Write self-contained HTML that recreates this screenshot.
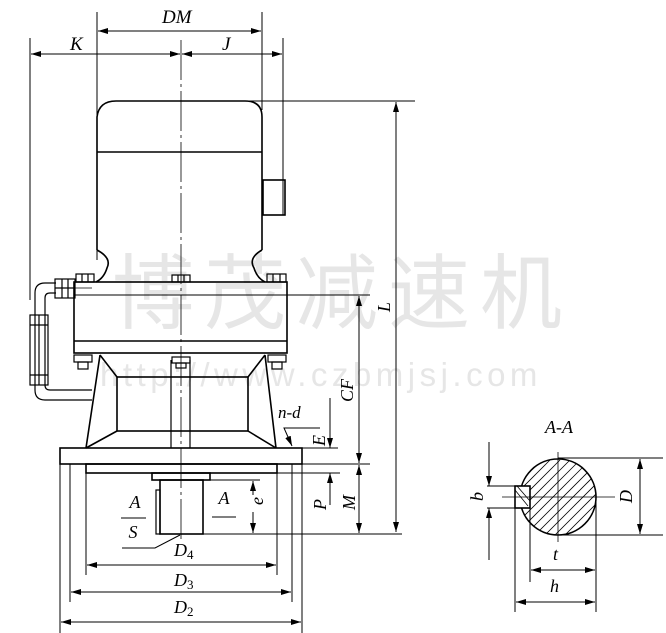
<!DOCTYPE html>
<html><head><meta charset="utf-8"><style>html,body{margin:0;padding:0;background:#fff}svg{display:block}</style></head><body>
<svg width="666" height="633" viewBox="0 0 666 633" xmlns="http://www.w3.org/2000/svg">
<defs>
<marker id="a" viewBox="0 0 10 6" refX="10" refY="3" markerWidth="10" markerHeight="6" orient="auto-start-reverse" markerUnits="userSpaceOnUse"><path d="M0,0L10,3L0,6z" fill="#000"/></marker>
<clipPath id="c"><circle cx="558" cy="497" r="38"/></clipPath>
</defs>
<!-- watermark -->
<g fill="#e6e6e6" font-family="'Noto Sans CJK SC',sans-serif">
<text x="112" y="322" font-size="82" letter-spacing="10">博茂减速机</text>
<text x="100" y="386" font-size="33" font-family="'Liberation Sans',sans-serif" letter-spacing="4.5">http://www.czbmjsj.com</text>
</g>
<g stroke="#000" fill="none" stroke-width="1">
<line x1="97" y1="12" x2="97" y2="260"/>
<line x1="262" y1="12" x2="262" y2="110"/>
<line x1="30" y1="38" x2="30" y2="300"/>
<line x1="283" y1="38" x2="283" y2="215"/>
<line x1="98" y1="31" x2="261" y2="31" marker-start="url(#a)" marker-end="url(#a)"/>
<line x1="31" y1="54" x2="180" y2="54" marker-start="url(#a)" marker-end="url(#a)"/>
<line x1="182" y1="54" x2="282" y2="54" marker-start="url(#a)" marker-end="url(#a)"/>
<line x1="181" y1="40" x2="181" y2="540" stroke-dasharray="40,4,3,4" stroke-width="0.8"/>
<line x1="230" y1="101" x2="415" y2="101"/>
<line x1="396" y1="102" x2="396" y2="532" marker-start="url(#a)" marker-end="url(#a)"/>
</g>
<g stroke="#000" fill="none" stroke-width="1.6">
<path d="M97,250 L97,117 Q99,101 116,101 L245,101 Q262,101 262,117 L262,250"/>
<line x1="97" y1="152" x2="262" y2="152"/>
<rect x="263" y="180" width="22" height="35"/>
<path d="M97,250 Q112,258 107,268 Q104,278 96,282"/>
<path d="M262,250 Q248,258 254,268 Q257,278 265,282"/>
<rect x="74" y="282" width="213" height="71"/>
<line x1="74" y1="295" x2="287" y2="295" stroke-width="1"/>
<line x1="74" y1="341" x2="287" y2="341"/>
<path d="M100,355 L86,448 M265,355 L276,448"/>
<rect x="117" y="377" width="131" height="54"/>
<path d="M100,355 L117,377 M265,355 L248,377 M86,448 L117,431 M276,448 L248,431"/>
<path d="M171,360 L171,448 M190,360 L190,448" stroke-width="1.2"/>
<rect x="60" y="448" width="242" height="16"/>
<rect x="86" y="464" width="191" height="9"/>
<rect x="152" y="473" width="58" height="7"/>
<rect x="160" y="480" width="43" height="54"/>
<rect x="156" y="490" width="4" height="44" stroke-width="1.2"/>
</g>
<g stroke="#000" fill="none" stroke-width="1.2">
<rect x="76" y="274" width="18" height="8"/><line x1="82" y1="274" x2="82" y2="282"/><line x1="88" y1="274" x2="88" y2="282"/>
<rect x="172" y="275" width="18" height="7"/><line x1="178" y1="275" x2="178" y2="282"/><line x1="184" y1="275" x2="184" y2="282"/>
<rect x="267" y="274" width="19" height="8"/><line x1="273" y1="274" x2="273" y2="282"/><line x1="280" y1="274" x2="280" y2="282"/>
<rect x="74" y="355" width="18" height="7"/><rect x="78" y="362" width="10" height="7"/>
<rect x="172" y="357" width="18" height="6"/><rect x="176" y="363" width="10" height="5"/>
<rect x="268" y="355" width="18" height="7"/><rect x="272" y="362" width="10" height="7"/>
<path d="M56,283 L45,283 Q35,283 35,293 L35,390 Q35,400 45,400 L92,400"/>
<path d="M56,293 L50,293 Q45,293 45,298 L45,385 Q45,390 50,390 L92,390"/>
<rect x="55" y="279" width="20" height="19"/><line x1="62" y1="279" x2="62" y2="298"/><line x1="68" y1="279" x2="68" y2="298"/><line x1="55" y1="288" x2="75" y2="288"/>
<rect x="30" y="315" width="18" height="70"/><line x1="39" y1="315" x2="39" y2="385"/><line x1="30" y1="325" x2="48" y2="325"/><line x1="30" y1="375" x2="48" y2="375"/>
<line x1="75" y1="288" x2="92" y2="288" stroke-width="0.8"/>
</g>
<g stroke="#000" fill="none" stroke-width="1">
<line x1="287" y1="295" x2="370" y2="295"/>
<line x1="302" y1="448" x2="338" y2="448"/>
<line x1="277" y1="464" x2="370" y2="464"/>
<line x1="277" y1="473" x2="340" y2="473"/>
<line x1="203" y1="480" x2="260" y2="480"/>
<line x1="203" y1="534" x2="402" y2="534"/>
<line x1="359" y1="296" x2="359" y2="463" marker-start="url(#a)" marker-end="url(#a)"/>
<line x1="359" y1="465" x2="359" y2="533" marker-start="url(#a)" marker-end="url(#a)"/>
<line x1="330" y1="398" x2="330" y2="448" marker-end="url(#a)"/>
<line x1="330" y1="505" x2="330" y2="473" marker-end="url(#a)"/>
<line x1="253" y1="481" x2="253" y2="495" marker-start="url(#a)"/>
<line x1="253" y1="512" x2="253" y2="533" marker-end="url(#a)"/>
<path d="M320,428 L284,428 L292,446" marker-end="url(#a)"/>
<line x1="212" y1="517" x2="236" y2="517"/>
<line x1="121" y1="518" x2="146" y2="518"/>
<path d="M180,535 L155,548 L122,548"/>
<line x1="86" y1="473" x2="86" y2="575"/><line x1="277" y1="473" x2="277" y2="575"/>
<line x1="70" y1="464" x2="70" y2="602"/><line x1="292" y1="464" x2="292" y2="602"/>
<line x1="60" y1="464" x2="60" y2="633"/><line x1="302" y1="464" x2="302" y2="633"/>
<line x1="87" y1="565" x2="276" y2="565" marker-start="url(#a)" marker-end="url(#a)"/>
<line x1="71" y1="592" x2="291" y2="592" marker-start="url(#a)" marker-end="url(#a)"/>
<line x1="61" y1="622" x2="301" y2="622" marker-start="url(#a)" marker-end="url(#a)"/>
</g>
<g stroke="#000" fill="none" stroke-width="1">
<g clip-path="url(#c)" stroke-width="0.8">
<line x1="500" y1="560" x2="600" y2="460"/><line x1="510" y1="560" x2="610" y2="460"/><line x1="520" y1="560" x2="620" y2="460"/><line x1="530" y1="560" x2="630" y2="460"/><line x1="540" y1="560" x2="640" y2="460"/><line x1="490" y1="560" x2="590" y2="460"/><line x1="480" y1="560" x2="580" y2="460"/><line x1="470" y1="560" x2="570" y2="460"/><line x1="460" y1="560" x2="560" y2="460"/><line x1="450" y1="560" x2="550" y2="460"/><line x1="440" y1="560" x2="540" y2="460"/><line x1="550" y1="560" x2="650" y2="460"/>
</g>
<rect x="515" y="486" width="15" height="22" fill="#fff" stroke="none"/>
<circle cx="558" cy="497" r="38" stroke-width="1.6"/>
<rect x="515" y="486" width="15" height="22" fill="#fff" stroke-width="1.6"/>
<line x1="515" y1="490" x2="528" y2="506" stroke-width="0.8"/><line x1="517" y1="486" x2="530" y2="501" stroke-width="0.8"/>
<line x1="502" y1="497" x2="615" y2="497" stroke-width="0.8"/>
<line x1="558" y1="452" x2="558" y2="542" stroke-width="0.8"/>
<line x1="558" y1="458" x2="663" y2="458"/><line x1="558" y1="535" x2="663" y2="535"/>
<line x1="640" y1="459" x2="640" y2="534" marker-start="url(#a)" marker-end="url(#a)"/>
<line x1="487" y1="486" x2="515" y2="486"/><line x1="487" y1="508" x2="515" y2="508"/>
<line x1="489" y1="442" x2="489" y2="486" marker-end="url(#a)"/>
<line x1="489" y1="560" x2="489" y2="508" marker-end="url(#a)"/>
<line x1="515" y1="508" x2="515" y2="612"/><line x1="530" y1="508" x2="530" y2="582"/><line x1="596" y1="497" x2="596" y2="612"/>
<line x1="531" y1="570" x2="595" y2="570" marker-start="url(#a)" marker-end="url(#a)"/>
<line x1="516" y1="602" x2="595" y2="602" marker-start="url(#a)" marker-end="url(#a)"/>
</g>
<g font-family="'Liberation Serif',serif" font-style="italic" font-size="18" fill="#000">
<text x="162" y="23" font-size="19">DM</text>
<text x="70" y="50" font-size="19">K</text>
<text x="222" y="50" font-size="19">J</text>
<text x="278" y="418" font-size="17">n-d</text>
<text x="135" y="508" text-anchor="middle">A</text>
<text x="133" y="538" text-anchor="middle">S</text>
<text x="224" y="504" text-anchor="middle">A</text>
<text x="174" y="556">D<tspan font-size="13" font-style="normal" dy="3">4</tspan></text>
<text x="174" y="586">D<tspan font-size="13" font-style="normal" dy="3">3</tspan></text>
<text x="174" y="613">D<tspan font-size="13" font-style="normal" dy="3">2</tspan></text>
<text x="545" y="433">A-A</text>
<text x="553" y="560">t</text>
<text x="550" y="592">h</text>
<g transform="rotate(-90)">
<text x="-312" y="390">L</text>
<text x="-402" y="353">CF</text>
<text x="-446" y="325">E</text>
<text x="-510" y="326">P</text>
<text x="-510" y="355">M</text>
<text x="-505" y="263">e</text>
<text x="-503" y="632">D</text>
<text x="-501" y="483">b</text>
</g>
</g>
</svg>
</body></html>
